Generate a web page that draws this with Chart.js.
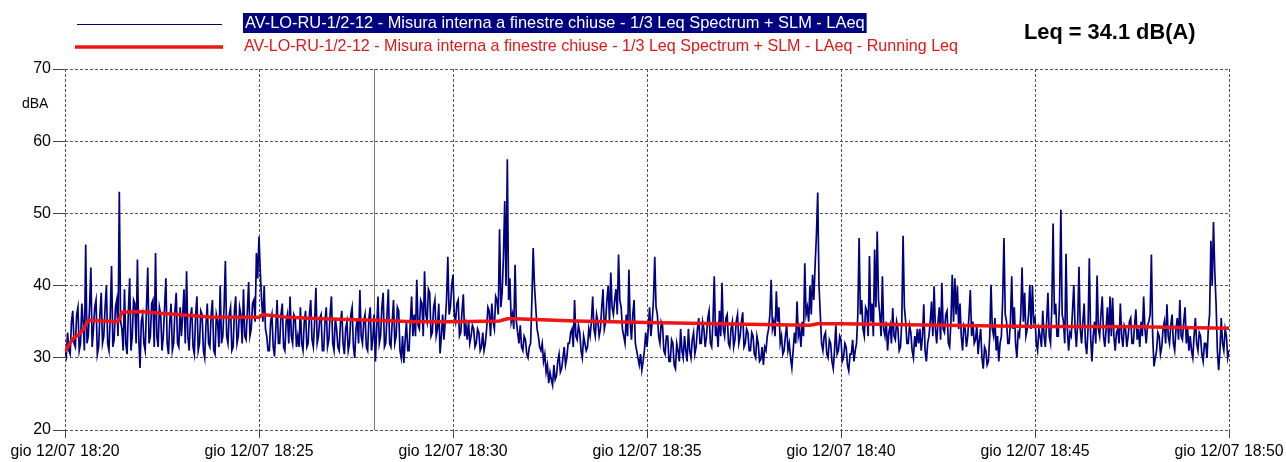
<!DOCTYPE html>
<html>
<head>
<meta charset="utf-8">
<script src="https://cdn.jsdelivr.net/npm/chart.js@4/dist/chart.umd.min.js"></script>
<style>
  body { margin: 0; background: #fff; }
  canvas { display: block; }
</style>
</head>
<body>
<canvas id="chart" width="1286" height="462"></canvas>
<script>
// LAeq samples, one row per minute from 18:20, one value every 2 s (dBA)
const laeqRows = [
  [31, 30.2, 33.5, 31, 30.5, 35, 36.5, 32, 31.5, 36, 37, 31, 32, 37.5, 35, 31, 45.7, 32, 33, 37, 42.5, 31.5, 34, 37, 38, 30.5, 31.5, 36, 39, 32],
  [33, 37, 40, 32, 31, 36, 42.7, 31.5, 32.5, 37, 38, 33, 53, 35, 34, 31, 39.5, 32, 30.5, 36.5, 41, 31, 33, 38, 37.5, 32, 43.6, 33, 28.6, 35],
  [36, 32, 31, 37, 42.5, 32, 33, 37.5, 38, 31.5, 44.5, 33, 31.5, 37, 36, 31, 33, 37, 41, 32, 30.5, 35, 37.5, 31, 32, 36.5, 39, 32, 31.5, 37],
  [33, 36, 39.5, 32, 42, 33, 31, 35.5, 37, 31.5, 30.5, 36, 38.5, 31, 32, 36.5, 36, 31, 30, 34.5, 37.5, 32, 31.5, 36, 38, 31, 30.5, 36, 35, 31.5],
  [40, 32, 33, 37, 43.4, 33, 32, 36, 37, 31, 31.5, 36.5, 38.5, 32, 33, 37, 36, 32, 39.5, 33, 32.5, 36.5, 40.5, 33, 34, 37.5, 38, 35, 44.5, 41],
  [46.8, 42, 38, 35, 40, 34, 33, 31, 31, 35, 36, 31.5, 30.2, 34, 38, 32, 32, 36, 37.5, 31.5, 31, 35, 36, 32, 38.5, 33, 32, 36, 35.5, 31.5],
  [33, 31.5, 37, 32, 31, 35, 36.5, 31.5, 32, 36, 38, 32.5, 31.5, 35, 39.7, 32, 33, 35.5, 36, 31, 31, 35, 37, 31.5, 32.5, 36, 38.5, 32, 31, 35.5],
  [34, 31.5, 31, 35, 36.5, 32, 30.5, 34, 35, 31, 32, 36, 37, 31.5, 30, 34, 35.5, 32, 39.4, 33, 32, 35, 36, 31.5, 31, 35.5, 37, 31, 32.5, 36],
  [29.5, 34, 38.5, 32, 33, 37, 39, 31.5, 32, 36, 39.5, 32, 31.5, 35, 38, 32, 33, 37, 36.5, 31, 30, 33, 29.3, 32.5, 35, 31, 31, 35, 38.5, 33],
  [36, 33, 40.8, 34.5, 34, 38, 37.5, 33, 42, 36, 35, 39.5, 39, 33, 33.5, 37, 38, 33, 34, 37.5, 30.6, 33, 36, 32.5, 35, 38, 44, 36, 37, 40],
  [41.5, 36, 35, 37.5, 38, 33, 33.5, 36.5, 38.8, 33, 34.5, 32.5, 35, 32, 33, 34.5, 34, 31.5, 32, 34, 33.5, 31, 31.5, 33.5, 31, 32, 34, 37, 36.5, 33],
  [37.5, 35, 34, 38.5, 38, 36, 47.8, 37, 39, 44, 51.7, 40, 57.5, 38, 41, 35, 36, 34, 42.9, 35, 33.5, 32, 34.5, 31.5, 31, 33, 32.5, 30.5, 30, 31.5],
  [32, 38, 45.2, 40, 37, 34, 33, 31.5, 31, 32, 29.5, 30.5, 28, 29, 26.5, 28, 27, 26.2, 29, 27, 27.5, 29.5, 30.5, 28, 28.5, 30, 31.5, 29, 30, 32],
  [32, 33.5, 34, 31.5, 38, 33, 32.5, 34.5, 33.5, 31, 30, 33, 32, 31, 31.5, 34, 33, 35, 38.5, 34, 33, 36, 35, 33, 34, 37, 39.5, 34, 35, 38],
  [40, 35, 41.8, 37, 36, 38, 39.5, 36, 44.3, 38, 37, 34, 33, 32, 36, 33, 42.2, 35, 32.5, 36, 38, 32, 31, 30, 29, 30.5, 28.3, 29.5, 31, 33.5],
  [31.5, 34, 37, 33, 35, 38, 44, 37, 36, 33, 32, 35, 34.5, 31, 30.5, 33, 33, 29.5, 29.5, 32.5, 32, 29, 28.5, 32, 31, 29.5, 34, 31, 30, 33],
  [31, 29.5, 34, 31, 30, 32.5, 33.5, 30.5, 31.5, 34, 35.5, 32, 32, 35, 34, 31.5, 33, 35.5, 36.5, 32, 31.5, 35, 41.3, 33, 34, 31.5, 36.5, 33, 40.4, 34],
  [33, 35.5, 36, 32, 31.5, 34, 35, 31.5, 32.5, 35, 36, 32, 33, 35, 36.3, 31.5, 32, 34, 33.5, 31, 31, 33.5, 33, 30.5, 30, 33, 32, 29.5, 29.8, 31.5],
  [29, 31.5, 31, 33, 34, 36, 40.8, 34, 35, 33, 39.2, 35, 37, 32, 33, 30.5, 31, 33, 34.5, 31, 32, 30, 28.6, 31, 33.5, 32, 37.8, 33, 34, 31.5],
  [35, 33, 43.1, 36, 37, 35, 40, 36, 41.5, 38, 42.9, 47, 52.9, 40, 36, 32, 31, 33, 33.5, 30.5, 30, 32.5, 32, 29.5, 28.5, 31, 34.5, 30.5, 31, 33],
  [32.5, 29.5, 30, 32, 31.5, 29, 28.2, 30.5, 30.5, 32.5, 29.5, 31, 32, 36, 46.6, 36, 38, 34, 33, 37, 36.5, 33, 44.1, 35, 37.5, 33, 45, 37, 47.5, 38],
  [36, 33, 41.3, 34, 33, 35, 31, 33.5, 34.5, 32, 36.9, 33, 32.5, 35, 34, 31, 31.5, 35, 46.9, 37, 35, 32, 32, 34.5, 33.5, 31, 30, 33, 31.5, 34],
  [32, 34, 31, 33, 37.4, 31, 29.5, 32, 33, 35, 37.8, 33, 39.9, 34, 32, 35, 37, 32.5, 40.4, 34, 33.5, 36, 36.5, 32, 31.5, 35, 41.5, 35, 41, 36],
  [39.9, 34, 37.5, 33, 31, 34.5, 34, 31.5, 33, 36, 39.4, 33, 35, 32, 32.5, 34.5, 30.5, 32.5, 34, 30, 28.5, 31.5, 31, 29, 29.5, 33, 40.1, 34, 33, 35.5],
  [31, 33, 29.5, 32, 33, 38, 46.6, 36, 35, 32, 32, 35, 41.3, 34, 37, 32, 30, 33.5, 33, 36, 42.5, 35, 39, 33, 34, 36, 40.1, 34, 40, 35],
  [35.5, 32, 31, 34, 33, 31.5, 36.5, 33, 31.5, 35, 39, 33, 32, 37, 48.6, 36, 37.5, 33, 33, 38, 50.5, 36, 35, 32, 44.4, 34, 31, 33.5, 33, 36.5],
  [40.1, 34, 31.5, 35, 42.6, 34, 32, 35, 37.5, 32, 30.5, 34, 43.8, 33, 29.5, 33, 35, 32, 41.4, 34, 33, 36, 38.5, 33, 31.5, 34, 37, 32, 38.5, 33],
  [38.3, 33, 31, 33.5, 34, 32, 37.5, 33, 31.5, 34.5, 34, 31.5, 33, 35, 35.5, 32, 32, 34.5, 36.7, 32.5, 34, 31.5, 35, 33, 38.5, 34, 32, 34.5, 35, 36],
  [44.3, 33, 28.8, 30, 31, 33.5, 33, 30.5, 31.5, 34, 35, 32, 37.4, 33, 32, 34.5, 36, 32, 31, 34, 35.5, 32.5, 38, 33, 32.5, 35, 37, 32, 34, 31],
  [33, 31, 30, 33, 35.5, 32, 31, 33.5, 33, 30.5, 29.5, 32, 32, 30, 34, 36, 46.2, 40, 48.8, 42, 37.5, 31, 28.3, 31, 35.5, 32, 31, 34, 33, 30],
  [31]
];
const sampleStep = 2; // seconds between samples

// running Leq, read at these times (seconds from 18:20)
const runTimes = [0, 6, 13, 21, 28, 36, 82, 88, 116, 142, 188, 229, 300, 306, 345, 396, 478, 540, 600, 672, 684, 696, 789, 900, 1077, 1152, 1164, 1200, 1356, 1500, 1656, 1800];
const runValues = [30.8, 31.8, 32.7, 33.2, 33.9, 35.2, 35.0, 36.3, 36.4, 36.2, 35.9, 35.6, 35.6, 36.0, 35.6, 35.4, 35.2, 35.0, 35.0, 35.1, 35.4, 35.4, 35.1, 34.9, 34.6, 34.5, 34.7, 34.7, 34.5, 34.35, 34.3, 34.1];

const yTicks = [20, 30, 40, 50, 60, 70];
const xTickTimes = [0, 300, 600, 900, 1200, 1500, 1800];
const xTickLabels = ['gio 12/07 18:20', 'gio 12/07 18:25', 'gio 12/07 18:30', 'gio 12/07 18:35', 'gio 12/07 18:40', 'gio 12/07 18:45', 'gio 12/07 18:50'];
const cursorTime = 478;

const seriesNames = [
  'AV-LO-RU-1/2-12 - Misura interna a finestre chiuse - 1/3 Leq Spectrum + SLM - LAeq',
  'AV-LO-RU-1/2-12 - Misura interna a finestre chiuse - 1/3 Leq Spectrum + SLM - LAeq - Running Leq'
];
const leqText = 'Leq = 34.1 dB(A)';

const BLUE = '#000080';
const RED = '#ee1515';
const GRID = '#555555';
const FONT = '"Liberation Sans", Arial, sans-serif';

const laeqPoints = [];
laeqRows.flat().forEach((v, i) => laeqPoints.push({ x: i * sampleStep, y: v }));
const runPoints = runTimes.map((t, i) => ({ x: t, y: runValues[i] }));

const overlay = {
  id: 'overlay',
  beforeDatasetsDraw(chart) {
    const ctx = chart.ctx;
    const a = chart.chartArea;
    const x = Math.round(chart.scales.x.getPixelForValue(cursorTime)) + 0.5;
    ctx.save();
    ctx.strokeStyle = '#7a7a7a';
    ctx.lineWidth = 1;
    ctx.beginPath();
    ctx.moveTo(x, a.top);
    ctx.lineTo(x, a.bottom);
    ctx.stroke();
    ctx.restore();
  },
  afterDraw(chart) {
    const ctx = chart.ctx;
    ctx.save();
    // legend samples
    ctx.strokeStyle = BLUE;
    ctx.lineWidth = 1.2;
    ctx.beginPath();
    ctx.moveTo(77, 24.5);
    ctx.lineTo(222, 24.5);
    ctx.stroke();
    ctx.strokeStyle = RED;
    ctx.lineWidth = 3.5;
    ctx.beginPath();
    ctx.moveTo(75, 47);
    ctx.lineTo(223, 47);
    ctx.stroke();

    ctx.font = '16.4px ' + FONT;
    ctx.textBaseline = 'middle';
    const w = ctx.measureText(seriesNames[0]).width;
    ctx.fillStyle = BLUE;
    ctx.fillRect(243, 13, w + 4, 20);
    ctx.fillStyle = '#ffffff';
    ctx.fillText(seriesNames[0], 245, 23.5);
    ctx.font = '16.1px ' + FONT;
    ctx.fillStyle = '#e01818';
    ctx.fillText(seriesNames[1], 244, 47);

    ctx.fillStyle = '#000';
    ctx.font = 'bold 21.8px ' + FONT;
    ctx.fillText(leqText, 1024, 33);

    ctx.font = '14px ' + FONT;
    ctx.fillText('dBA', 22, 104);
    ctx.restore();
  }
};

new Chart(document.getElementById('chart'), {
  type: 'line',
  data: {
    datasets: [
      { data: runPoints, borderColor: RED, borderWidth: 3.5, pointRadius: 0, tension: 0 },
      { data: laeqPoints, borderColor: BLUE, borderWidth: 1.7, pointRadius: 0, tension: 0 }
    ]
  },
  options: {
    responsive: false,
    animation: false,
    parsing: false,
    layout: { padding: { top: 69, right: 57, left: 0, bottom: 0 } },
    plugins: { legend: { display: false }, tooltip: { enabled: false } },
    scales: {
      x: {
        type: 'linear',
        min: 0,
        max: 1800,
        afterFit(s) { s.height = 32; s.paddingLeft = 0; s.paddingRight = 0; },
        afterBuildTicks(s) { s.ticks = xTickTimes.map(v => ({ value: v })); },
        ticks: {
          color: '#000',
          font: { family: FONT, size: 15.8 },
          padding: 4,
          maxRotation: 0,
          autoSkip: false,
          callback: (v) => xTickLabels[xTickTimes.indexOf(v)]
        },
        grid: { color: GRID, tickColor: '#444', tickLength: 8, tickBorderDash: [] },
        border: { display: false, dash: [3, 2] }
      },
      y: {
        min: 20,
        max: 70,
        afterFit(s) { s.width = 65; },
        afterBuildTicks(s) { s.ticks = yTicks.map(v => ({ value: v })); },
        ticks: {
          color: '#000',
          font: { family: FONT, size: 16 },
          padding: 2
        },
        grid: { color: GRID, tickColor: '#444', tickLength: 12, tickBorderDash: [] },
        border: { display: false, dash: [3, 2] }
      }
    }
  },
  plugins: [overlay]
});
</script>
</body>
</html>
